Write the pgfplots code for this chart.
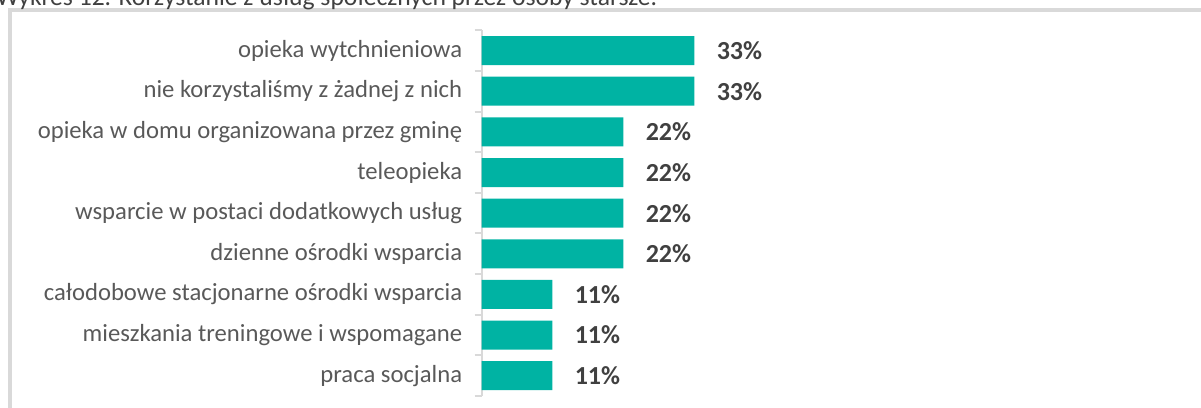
\documentclass[border=0pt]{standalone}
\usepackage{pgfplots}
\pgfplotsset{compat=1.18}
\usepackage{fontspec}
\setmainfont{Carlito}
\definecolor{barc}{RGB}{0,179,163}
\definecolor{lbl}{RGB}{89,89,89}
\definecolor{val}{RGB}{64,64,64}
\definecolor{frm}{RGB}{217,217,217}
\begin{document}
\begin{tikzpicture}
\useasboundingbox (0pt,0pt) rectangle (900.75pt,-305.25pt);
\draw[frm, line width=3pt] (7.5pt,-320pt) -- (7.5pt,-7.5pt) -- (920pt,-7.5pt);
\node[anchor=base west, text=val, font=\fontsize{19.2}{22}\selectfont, inner sep=0pt] at (-3pt,-4.5pt) {Wykres 12. Korzystanie z usług społecznych przez osoby starsze.};
\begin{axis}[
  at={(361.125pt,-297pt)}, anchor=south west,
  scale only axis, width=479.25pt, height=274.3pt,
  xbar, bar width=21.75pt,
  xmin=0, xmax=100, ymin=-0.5, ymax=8.5, y dir=reverse,
  axis x line=none, axis y line*=left,
  y axis line style={frm, line width=1.5pt, -},
  ytick={0,...,8},
  yticklabels={opieka wytchnieniowa, nie korzystaliśmy z żadnej z nich, opieka w domu organizowana przez gminę, teleopieka, wsparcie w postaci dodatkowych usług, dzienne ośrodki wsparcia, całodobowe stacjonarne ośrodki wsparcia, mieszkania treningowe i wspomagane, praca socjalna},
  major tick length=0pt,
  extra y ticks={-0.5,0.5,1.5,2.5,3.5,4.5,5.5,6.5,7.5,8.5},
  extra y tick labels={},
  extra y tick style={tick align=outside, major tick length=5.25pt, tick style={frm, line width=1.5pt}},
  yticklabel style={font=\fontsize{18.5}{22}\selectfont, text=lbl, xshift=-11pt},
  point meta=x,
  /pgf/number format/assume math mode=true,
  nodes near coords={\pgfmathprintnumber[fixed,precision=0,assume math mode=true]{\pgfplotspointmeta}\%},
  nodes near coords style={font=\bfseries\fontsize{19.5}{23}\selectfont, text=val, anchor=west, inner sep=0pt, xshift=16.5pt},
  clip=false,
]
\addplot[fill=barc, draw=none] coordinates {(33.33,0) (33.33,1) (22.22,2) (22.22,3) (22.22,4) (22.22,5) (11.11,6) (11.11,7) (11.11,8)};
\end{axis}
\end{tikzpicture}
\end{document}
